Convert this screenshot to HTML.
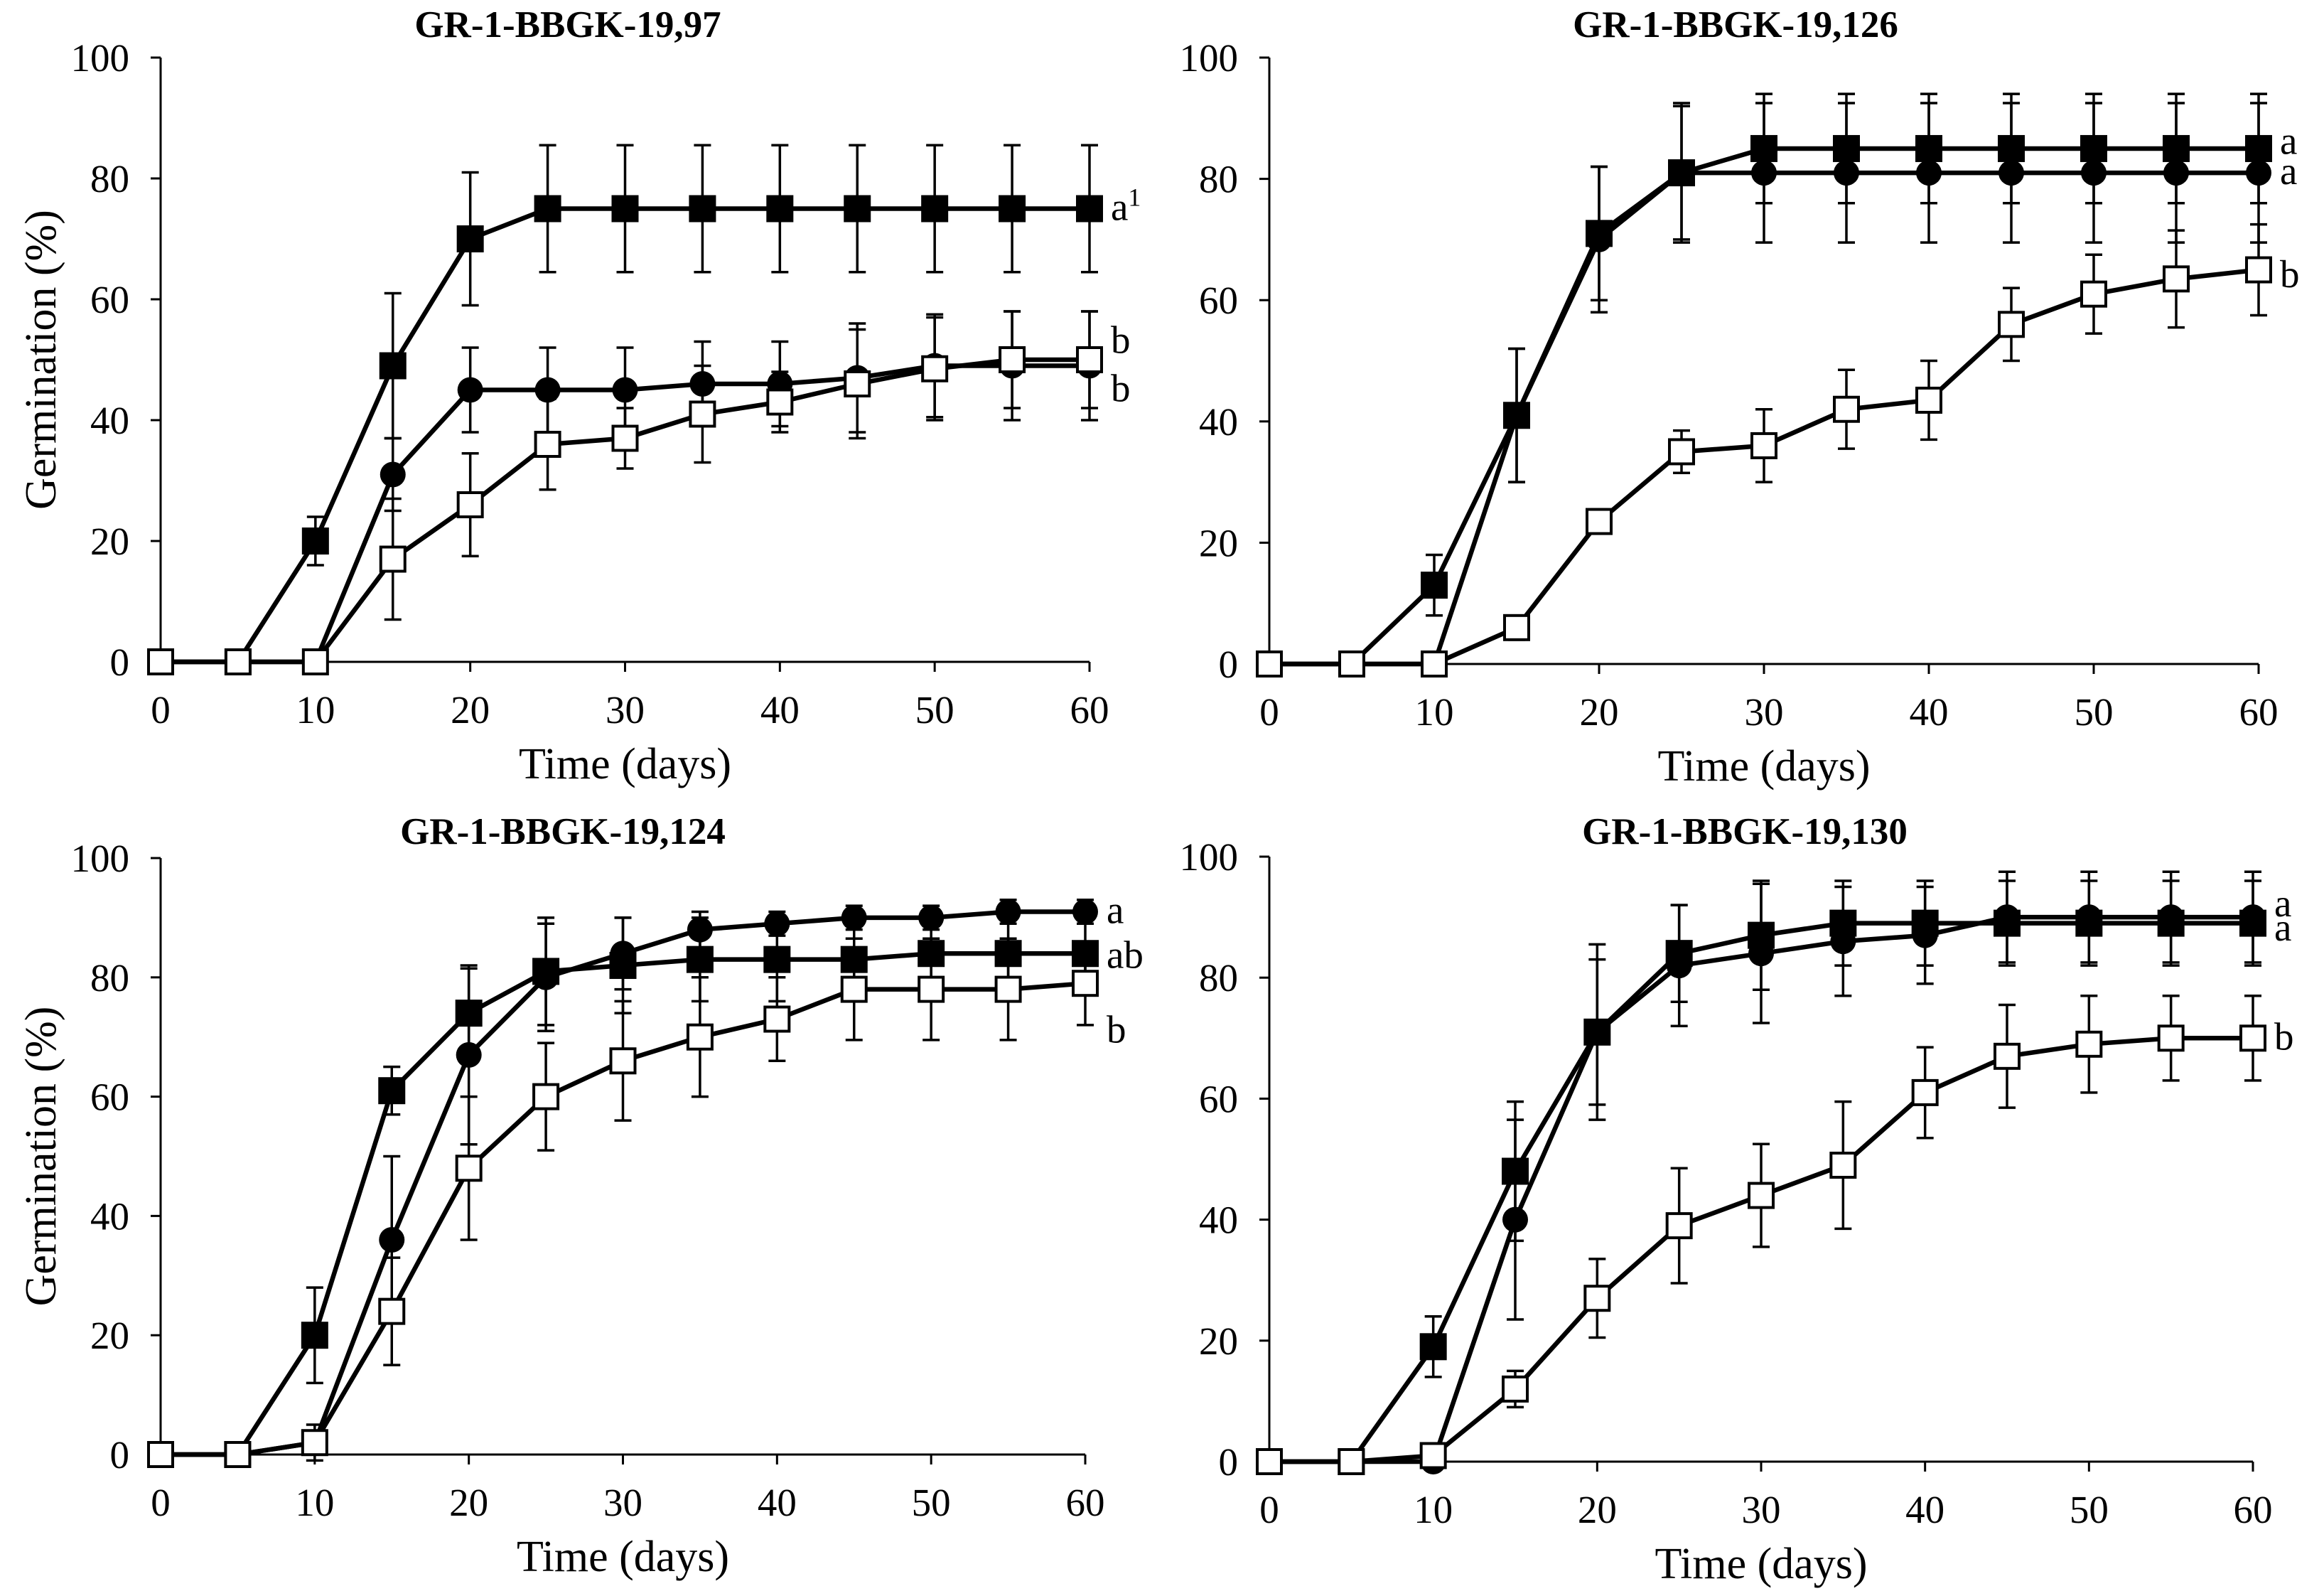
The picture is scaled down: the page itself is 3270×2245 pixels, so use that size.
<!DOCTYPE html>
<html><head><meta charset="utf-8"><style>
html,body{margin:0;padding:0;background:#fff;}
svg{display:block;font-family:"Liberation Serif",serif;}
</style></head><body>
<svg id="fig" width="3270" height="2245" viewBox="0 0 3270 2245" xmlns="http://www.w3.org/2000/svg"></svg>
<script>
const days = [0,5,10,15,20,25,30,35,40,45,50,55,60];
const yTicks = [0,20,40,60,80,100];
const xTicks = [0,10,20,30,40,50,60];
const titles = ["GR-1-BBGK-19,97","GR-1-BBGK-19,126","GR-1-BBGK-19,124","GR-1-BBGK-19,130"];
// panel 1
const p1Filled = [0,0,20,49,70,75,75,75,75,75,75,75,75];
const p1FilledErr = [0,0,4,12,11,10.5,10.5,10.5,10.5,10.5,10.5,10.5,10.5];
const p1Circle = [0,0,0,31,45,45,45,46,46,47,49,49,49];
const p1CircleErr = [0,0,0,6,7,7,7,7,7,9,8.5,9,9];
const p1Open = [0,0,0,17,26,36,37,41,43,46,48.5,50,50];
const p1OpenErr = [0,0,0,10,8.5,7.5,5,8,5,9,8.5,8,8];
const p1Letters = ["a","b","b"]; const p1LetterY = [75,53,45];
// panel 2
const p2Filled = [0,0,13,41,71,81,85,85,85,85,85,85,85];
const p2FilledErr = [0,0,5,11,11,11,9,9,9,9,9,9,9];
const p2Circle = [0,0,0,41,70,81,81,81,81,81,81,81,81];
const p2CircleErr = [0,0,0,11,12,11.5,11.5,11.5,11.5,11.5,11.5,11.5,11.5];
const p2Open = [0,0,0,6,23.5,35,36,42,43.5,56,61,63.5,65];
const p2OpenErr = [0,0,0,2,2,3.5,6,6.5,6.5,6,6.5,8,7.5];
const p2Letters = ["a","a","b"]; const p2LetterY = [86,81,64];
// panel 3
const p3Filled = [0,0,20,61,74,81,82,83,83,83,84,84,84];
const p3FilledErr = [0,0,8,4,7.5,9,8,7,7,7,7,7,7];
const p3Circle = [0,0,2,36,67,80,84,88,89,90,90,91,91];
const p3CircleErr = [0,0,2,14,15,9,6,3,2,2,2,2,2];
const p3Open = [0,0,2,24,48,60,66,70,73,78,78,78,79];
const p3OpenErr = [0,0,3,9,12,9,10,10,7,8.5,8.5,8.5,7];
const p3Letters = ["a","ab","b"]; const p3LetterY = [91,83.5,71];
// panel 4
const p4Filled = [0,0,19,48,71,84,87,89,89,89,89,89,89];
const p4FilledErr = [0,0,5,11.5,14.5,8,9,7,7,7,7,7,7];
const p4Circle = [0,0,0,40,71,82,84,86,87,90,90,90,90];
const p4CircleErr = [0,0,0,16.5,12,10,11.5,9,8,7.5,7.5,7.5,7.5];
const p4Open = [0,0,1,12,27,39,44,49,61,67,69,70,70];
const p4OpenErr = [0,0,0,3,6.5,9.5,8.5,10.5,7.5,8.5,8,7,7];
const p4Letters = ["a","a","b"]; const p4LetterY = [92,88,70];

const panels = [
 {x0:226,x1:1533,y0:931,y1:81,data:[p1Filled,p1FilledErr,p1Circle,p1CircleErr,p1Open,p1OpenErr],L:p1Letters,LY:p1LetterY,tx:799,ty:52,sup:true},
 {x0:1786,x1:3178,y0:934,y1:81,data:[p2Filled,p2FilledErr,p2Circle,p2CircleErr,p2Open,p2OpenErr],L:p2Letters,LY:p2LetterY,tx:2442,ty:52},
 {x0:226,x1:1527,y0:2046,y1:1207,data:[p3Filled,p3FilledErr,p3Circle,p3CircleErr,p3Open,p3OpenErr],L:p3Letters,LY:p3LetterY,tx:792,ty:1187},
 {x0:1786,x1:3170,y0:2056,y1:1205,data:[p4Filled,p4FilledErr,p4Circle,p4CircleErr,p4Open,p4OpenErr],L:p4Letters,LY:p4LetterY,tx:2455,ty:1187}
];
const NS="http://www.w3.org/2000/svg";
const svg=document.getElementById('fig');
function mk(tag,attrs,parent){const e=document.createElementNS(NS,tag);for(const k in attrs)e.setAttribute(k,attrs[k]);(parent||svg).appendChild(e);return e;}
panels.forEach((p,pi)=>{
 const g=mk('g',{});
 
 
 const X=v=>p.x0+(p.x1-p.x0)*v/60;
 const Y=v=>p.y0+(p.y1-p.y0)*v/100;
 const t=mk('text',{x:p.tx,y:p.ty,'text-anchor':'middle','font-size':53,'font-weight':'bold'},g);
 t.textContent=titles[pi];
 
 
 const ya=mk('line',{x1:p.x0,y1:p.y0,x2:p.x0,y2:p.y1,stroke:'#000','stroke-width':3},g);
 
 
 const xa=mk('line',{x1:p.x0,y1:p.y0,x2:p.x1,y2:p.y0,stroke:'#000','stroke-width':3},g);
 
 
 yTicks.forEach(v=>{
  mk('line',{x1:p.x0-14,y1:Y(v),x2:p.x0,y2:Y(v),stroke:'#000','stroke-width':3},g);
  const tl=mk('text',{x:p.x0-44,y:Y(v)+19,'text-anchor':'end','font-size':55},g);
  tl.textContent=v;
  
  
 });
 xTicks.forEach(v=>{
  mk('line',{x1:X(v),y1:p.y0,x2:X(v),y2:p.y0+14,stroke:'#000','stroke-width':3},g);
  const tl=mk('text',{x:X(v),y:p.y0+86,'text-anchor':'middle','font-size':55},g);
  tl.textContent=v;
  
  
 });
 const xt=mk('text',{x:(p.x0+p.x1)/2,y:p.y0+164,'text-anchor':'middle','font-size':62},g);
 xt.textContent='Time (days)';
 
 
 if(pi%2===0){
  const cy=(p.y0+p.y1)/2;
  const yt=mk('text',{x:0,y:0,'text-anchor':'middle','font-size':62,transform:`translate(78,${cy}) rotate(-90)`},g);
  yt.textContent='Germination (%)';
  
  
 }
 const [fv,fe,cv,ce,ov,oe]=p.data;
 const series=[[fv,fe,'filled-square'],[cv,ce,'circle'],[ov,oe,'open-square']];
 series.forEach(([vals,errs,nm])=>{
  vals.forEach((v,i)=>{
   if(!errs[i])return;
   const x=X(days[i]);
   const eb=mk('path',{d:`M${x},${Y(v+errs[i])}V${Y(v-errs[i])}M${x-12},${Y(v+errs[i])}h24M${x-12},${Y(v-errs[i])}h24`,stroke:'#000','stroke-width':3.5,fill:'none'},g);
   
   
  });
 });
 series.forEach(([vals,errs,nm])=>{
  const ln=mk('polyline',{points:vals.map((v,i)=>X(days[i])+','+Y(v)).join(' '),stroke:'#000','stroke-width':6.5,fill:'none'},g);
  
  
 });
 series.forEach(([vals,errs,nm])=>{
  vals.forEach((v,i)=>{
   const x=X(days[i]),y=Y(v);let m;
   if(nm==='circle') m=mk('circle',{cx:x,cy:y,r:18,fill:'#000'},g);
   else m=mk('rect',{x:x-17,y:y-17,width:34,height:34,fill:nm==='open-square'?'#fff':'#000',stroke:'#000','stroke-width':4},g);
   
   
  });
 });
 p.L.forEach((l,i)=>{
  const lt=mk('text',{x:p.x1+30,y:Y(p.LY[i])+16,'font-size':55},g);
  lt.textContent=l;
  
  
  if(p.sup&&i===0){const s=mk('tspan',{'font-size':36,dy:-20},lt);s.textContent='1';}
 });
});
</script>
</body></html>
